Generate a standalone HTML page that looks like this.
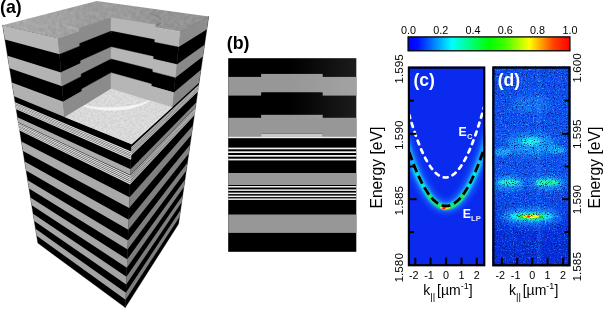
<!DOCTYPE html>
<html><head><meta charset="utf-8"><title>Figure</title>
<style>html,body{margin:0;padding:0;background:#fff}svg{display:block}text{font-family:"Liberation Sans",Arial,sans-serif}</style>
</head><body>
<svg width="604" height="309" viewBox="0 0 604 309">
<defs>
<linearGradient id="jet" x1="0" x2="1" y1="0" y2="0">
<stop offset="0" stop-color="#0000ff"/><stop offset="0.06" stop-color="#0010ff"/><stop offset="0.27" stop-color="#00ffff"/><stop offset="0.5" stop-color="#00ff00"/><stop offset="0.60" stop-color="#40ff00"/><stop offset="0.75" stop-color="#ffff00"/><stop offset="0.9" stop-color="#ff4000"/><stop offset="1" stop-color="#ff0000"/>
</linearGradient>
<linearGradient id="gl" gradientUnits="userSpaceOnUse" x1="0" y1="25" x2="0" y2="305"><stop offset="0" stop-color="#b8b8b8"/><stop offset="0.35" stop-color="#aeaeae"/><stop offset="1" stop-color="#a2a2a2"/></linearGradient>
<linearGradient id="gr" gradientUnits="userSpaceOnUse" x1="0" y1="17" x2="0" y2="305"><stop offset="0" stop-color="#8e8e8e"/><stop offset="0.4" stop-color="#818181"/><stop offset="1" stop-color="#7c7c7c"/></linearGradient>
<linearGradient id="bsh" x1="0" x2="1" y1="0" y2="0"><stop offset="0" stop-color="#fff" stop-opacity="0"/><stop offset="1" stop-color="#fff" stop-opacity="0.11"/></linearGradient>
<linearGradient id="tsh" gradientUnits="userSpaceOnUse" x1="20" y1="35" x2="150" y2="0"><stop offset="0" stop-color="#fff" stop-opacity="0.13"/><stop offset="0.6" stop-color="#fff" stop-opacity="0"/><stop offset="1" stop-color="#000" stop-opacity="0.05"/></linearGradient>
<linearGradient id="dbg" x1="0" x2="0" y1="0" y2="1">
<stop offset="0" stop-color="#1248ee"/><stop offset="0.45" stop-color="#1450f0"/><stop offset="0.7" stop-color="#1040e8"/><stop offset="0.85" stop-color="#0a2cdc"/><stop offset="1" stop-color="#0828d8"/>
</linearGradient>
<filter id="b05" x="-50%" y="-50%" width="200%" height="200%"><feGaussianBlur stdDeviation="0.5"/></filter>
<filter id="b1" x="-50%" y="-100%" width="200%" height="300%"><feGaussianBlur stdDeviation="1"/></filter>
<filter id="b2" x="-50%" y="-100%" width="200%" height="300%"><feGaussianBlur stdDeviation="1.8"/></filter>
<filter id="b3" x="-50%" y="-100%" width="200%" height="300%"><feGaussianBlur stdDeviation="3"/></filter>
<filter id="noise" color-interpolation-filters="sRGB" x="0" y="0" width="100%" height="100%"><feTurbulence type="fractalNoise" baseFrequency="0.9" numOctaves="2" seed="3" result="n"/><feColorMatrix in="n" type="matrix" values="0 0 0 0 0  0 0 0 0 0.08  0 0 0 0 0.4  -3.4 -3.4 0 0 3.15"/></filter>
<filter id="tex" color-interpolation-filters="sRGB" x="0" y="0" width="100%" height="100%"><feTurbulence type="fractalNoise" baseFrequency="0.25" numOctaves="3" seed="5" result="n"/><feColorMatrix in="n" type="matrix" values="0.11 0 0 0 0.555  0.11 0 0 0 0.555  0.11 0 0 0 0.555  0 0 0 0 1" result="g"/><feComposite in="g" in2="SourceGraphic" operator="in"/></filter>
<filter id="tex2" color-interpolation-filters="sRGB" x="0" y="0" width="100%" height="100%"><feTurbulence type="fractalNoise" baseFrequency="0.45" numOctaves="3" seed="8" result="n"/><feColorMatrix in="n" type="matrix" values="0.14 0 0 0 0.78  0.14 0 0 0 0.78  0.14 0 0 0 0.78  0 0 0 0 1" result="g"/><feComposite in="g" in2="SourceGraphic" operator="in"/></filter>
<filter id="dn" x="0" y="0" width="100%" height="100%" color-interpolation-filters="sRGB"><feTurbulence type="fractalNoise" baseFrequency="0.75" numOctaves="2" seed="11" result="n"/><feColorMatrix in="n" type="matrix" values="0.15 0 0 0 -0.09  1.3 0 0 0 -0.7  0.6 0 0 0 -0.31  0 0 0 0 1" result="m"/><feComposite in="SourceGraphic" in2="m" operator="arithmetic" k1="0" k2="1" k3="1" k4="0"/></filter>
<clipPath id="clipc"><rect x="408" y="66.5" width="77.3" height="199.8"/></clipPath>
<clipPath id="clipd"><rect x="492.3" y="66.5" width="78.2" height="199.8"/></clipPath>
</defs>
<rect width="604" height="309" fill="#fff"/>
<g id="block">
<polygon points="2.60,25.20 58.26,38.33 64.54,116.93 131.59,144.37 125.31,307.58 37.82,243.10" fill="#000" stroke="#000" stroke-width="0.35" stroke-linejoin="round" />
<polygon points="208.69,16.38 180.22,31.84 172.26,107.24 131.59,144.37 125.31,307.58 178.55,223.93" fill="#000" stroke="#000" stroke-width="0.35" stroke-linejoin="round" />
<polygon points="2.60,25.20 58.26,38.33 59.53,54.22 4.90,39.40" fill="url(#gl)" />
<polygon points="208.69,16.38 180.22,31.84 178.62,47.01 206.77,29.55" fill="url(#gr)" />
<polygon points="7.54,55.76 60.98,72.41 62.09,86.23 9.56,68.27" fill="url(#gl)" />
<polygon points="204.56,44.78 176.78,64.41 175.38,77.67 202.86,56.47" fill="url(#gr)" />
<polygon points="11.85,82.39 63.33,101.75 64.54,116.93 14.09,96.29" fill="url(#gl)" />
<polygon points="200.94,69.71 173.81,92.60 172.26,107.24 199.04,82.79" fill="url(#gr)" />
<polygon points="15.11,102.58 131.31,151.85 131.27,152.77 15.24,103.36" fill="#f2f2f2" stroke="#f2f2f2" stroke-width="0.35" stroke-linejoin="round" />
<polygon points="15.34,103.99 131.24,153.52 131.21,154.44 15.46,104.77" fill="#f2f2f2" stroke="#f2f2f2" stroke-width="0.35" stroke-linejoin="round" />
<polygon points="15.57,105.40 131.18,155.19 131.14,156.10 15.69,106.17" fill="#f2f2f2" stroke="#f2f2f2" stroke-width="0.35" stroke-linejoin="round" />
<polygon points="15.79,106.80 131.11,156.85 131.08,157.75 15.92,107.57" fill="#f2f2f2" stroke="#f2f2f2" stroke-width="0.35" stroke-linejoin="round" />
<polygon points="16.02,108.20 131.05,158.49 131.02,159.40 16.14,108.96" fill="#f2f2f2" stroke="#f2f2f2" stroke-width="0.35" stroke-linejoin="round" />
<polygon points="198.70,85.13 131.48,147.32 131.44,148.29 198.59,85.90" fill="#d8d8d8" stroke="#d8d8d8" stroke-width="0.35" stroke-linejoin="round" />
<polygon points="198.50,86.52 131.41,149.08 131.38,150.04 198.39,87.28" fill="#d8d8d8" stroke="#d8d8d8" stroke-width="0.35" stroke-linejoin="round" />
<polygon points="198.30,87.91 131.35,150.82 131.31,151.77 198.19,88.66" fill="#d8d8d8" stroke="#d8d8d8" stroke-width="0.35" stroke-linejoin="round" />
<polygon points="198.10,89.28 131.28,152.55 131.24,153.49 197.99,90.04" fill="#d8d8d8" stroke="#d8d8d8" stroke-width="0.35" stroke-linejoin="round" />
<polygon points="197.90,90.65 131.21,154.27 131.18,155.21 197.79,91.41" fill="#d8d8d8" stroke="#d8d8d8" stroke-width="0.35" stroke-linejoin="round" />
<polygon points="17.48,117.27 130.64,169.14 130.42,174.89 18.28,122.20" fill="url(#gl)" />
<polygon points="196.16,102.62 130.64,169.14 130.42,174.89 195.48,107.30" fill="url(#gr)" />
<polygon points="18.40,122.94 130.39,175.75 130.35,176.79 18.55,123.84" fill="#f2f2f2" stroke="#f2f2f2" stroke-width="0.35" stroke-linejoin="round" />
<polygon points="18.67,124.58 130.31,177.65 130.27,178.69 18.81,125.47" fill="#f2f2f2" stroke="#f2f2f2" stroke-width="0.35" stroke-linejoin="round" />
<polygon points="18.93,126.20 130.24,179.53 130.20,180.56 19.07,127.09" fill="#f2f2f2" stroke="#f2f2f2" stroke-width="0.35" stroke-linejoin="round" />
<polygon points="19.19,127.82 130.17,181.41 130.13,182.43 19.33,128.70" fill="#f2f2f2" stroke="#f2f2f2" stroke-width="0.35" stroke-linejoin="round" />
<polygon points="19.45,129.43 130.10,183.26 130.06,184.28 19.59,130.31" fill="#f2f2f2" stroke="#f2f2f2" stroke-width="0.35" stroke-linejoin="round" />
<polygon points="195.38,108.01 130.39,175.75 130.35,176.79 195.26,108.86" fill="#d8d8d8" stroke="#d8d8d8" stroke-width="0.35" stroke-linejoin="round" />
<polygon points="195.16,109.56 130.31,177.65 130.27,178.69 195.03,110.41" fill="#d8d8d8" stroke="#d8d8d8" stroke-width="0.35" stroke-linejoin="round" />
<polygon points="194.93,111.11 130.24,179.53 130.20,180.56 194.81,111.95" fill="#d8d8d8" stroke="#d8d8d8" stroke-width="0.35" stroke-linejoin="round" />
<polygon points="194.71,112.64 130.17,181.41 130.13,182.43 194.59,113.49" fill="#d8d8d8" stroke="#d8d8d8" stroke-width="0.35" stroke-linejoin="round" />
<polygon points="194.49,114.17 130.10,183.26 130.06,184.28 194.36,115.01" fill="#d8d8d8" stroke="#d8d8d8" stroke-width="0.35" stroke-linejoin="round" />
<polygon points="21.41,141.53 129.56,197.16 129.14,208.04 22.96,151.12" fill="url(#gl)" />
<polygon points="192.81,125.71 129.56,197.16 129.14,208.04 191.48,134.86" fill="url(#gr)" />
<polygon points="24.64,161.53 128.69,219.76 128.31,229.68 26.08,170.44" fill="url(#gl)" />
<polygon points="190.03,144.84 128.69,219.76 128.31,229.68 188.79,153.39" fill="url(#gr)" />
<polygon points="27.65,180.13 127.90,240.39 127.55,249.47 28.99,188.43" fill="url(#gl)" />
<polygon points="187.44,162.72 127.90,240.39 127.55,249.47 186.27,170.73" fill="url(#gr)" />
<polygon points="30.45,197.47 127.17,259.29 126.85,267.64 31.70,205.22" fill="url(#gl)" />
<polygon points="185.00,179.48 127.17,259.29 126.85,267.64 183.91,186.99" fill="url(#gr)" />
<polygon points="33.07,213.68 126.50,276.68 126.21,284.38 34.24,220.93" fill="url(#gl)" />
<polygon points="182.72,195.20 126.50,276.68 126.21,284.38 181.70,202.26" fill="url(#gr)" />
<polygon points="35.52,228.86 125.88,292.73 125.61,299.84 36.62,235.66" fill="url(#gl)" />
<polygon points="180.57,209.99 125.88,292.73 125.61,299.84 179.61,216.64" fill="url(#gr)" />
<polygon points="2.60,25.20 96.73,0.89 208.69,16.38 180.22,31.84 111.19,19.90 58.26,38.33" fill="#959595" filter="url(#tex)"/>
<polygon points="111.20,17.43 78.93,28.35 76.46,27.81 74.16,27.24 72.03,26.63 70.09,26.00 68.33,25.34 66.76,24.67 65.38,23.97 64.20,23.26 63.22,22.55 62.43,21.82 61.83,21.09 61.42,20.35 61.21,19.62 61.17,18.90 61.32,18.18 61.64,17.47 62.13,16.77 62.78,16.08 63.59,15.41 64.55,14.76 65.66,14.13 66.90,13.52 68.28,12.93 69.77,12.36 71.39,11.82 73.11,11.30 74.94,10.81 76.86,10.35 78.87,9.91 80.97,9.51 83.14,9.13 85.38,8.79 87.68,8.47 90.04,8.19 92.45,7.93 94.91,7.71 97.40,7.52 99.93,7.36 102.48,7.23 105.05,7.14 107.64,7.08 110.23,7.05 112.83,7.05 115.43,7.08 118.01,7.15 120.59,7.25 123.14,7.38 125.66,7.55 128.15,7.74 130.60,7.97 133.01,8.23 135.37,8.52 137.67,8.84 139.90,9.19 142.07,9.58 144.15,9.99 146.15,10.43 148.07,10.90 149.88,11.39 151.59,11.92 153.18,12.47 154.66,13.04 156.01,13.64 157.23,14.26 158.31,14.90 159.24,15.56 160.02,16.23 160.63,16.93 161.09,17.63 161.36,18.35 161.46,19.07 161.38,19.80 161.11,20.54 160.65,21.28 160.00,22.01 159.15,22.74 158.11,23.46 156.87,24.17 155.43,24.86" fill="#959595" filter="url(#tex)"/>
<polygon points="155.25,27.52 156.08,27.13 156.85,26.72 157.56,26.32 158.20,25.90 158.78,25.49 159.31,25.07 159.76,24.65 160.16,24.23 160.50,23.80 160.77,23.38 160.99,22.95 161.14,22.53 161.24,22.11 161.27,21.68 161.25,21.26 161.17,20.85 161.04,20.43 160.85,20.02 160.61,19.61 160.31,19.21 159.96,18.81 159.56,18.42 159.11,18.03 158.62,17.64 158.07,17.27 157.48,16.90 156.84,16.53 156.16,16.17 155.44,15.82 154.68,15.48 153.87,15.14 153.03,14.81 152.15,14.49 151.23,14.18 150.28,13.88 149.29,13.58 148.27,13.30 147.22,13.02 146.14,12.75 146.14,12.75 147.23,12.93 148.28,13.12 149.31,13.32 150.30,13.53 151.26,13.75 152.18,13.98 153.07,14.21 153.92,14.46 154.73,14.71 155.50,14.97 156.23,15.24 156.91,15.52 157.56,15.80 158.15,16.09 158.71,16.39 159.21,16.70 159.67,17.01 160.07,17.33 160.43,17.65 160.73,17.98 160.98,18.32 161.17,18.66 161.31,19.00 161.40,19.35 161.42,19.71 161.39,20.06 161.30,20.42 161.15,20.78 160.94,21.15 160.67,21.51 160.34,21.88 159.94,22.25 159.48,22.62 158.96,22.99 158.38,23.36 157.74,23.74 157.03,24.11 156.26,24.48 155.43,24.86" fill="#7c7c7c" opacity="0.7"/>
<polygon points="79.06,31.09 77.94,30.84 76.84,30.59 75.78,30.33 74.75,30.07 73.76,29.80 72.80,29.52 71.88,29.23 71.00,28.94 70.16,28.65 69.35,28.35 68.58,28.04 67.84,27.73 67.15,27.42 66.50,27.10 65.88,26.78 65.31,26.46 64.77,26.13 64.27,25.80 63.82,25.47 63.40,25.14 63.02,24.80 62.68,24.47 62.38,24.13 62.12,23.79 61.89,23.46 61.71,23.12 61.56,22.78 61.46,22.44 61.38,22.10 61.35,21.77 61.35,21.43 61.39,21.10 61.47,20.77 61.58,20.44 61.72,20.11 61.90,19.78 62.12,19.46 62.37,19.14 62.65,18.82 62.65,18.82 62.36,19.05 62.11,19.28 61.88,19.51 61.70,19.74 61.55,19.98 61.43,20.22 61.35,20.46 61.30,20.71 61.29,20.95 61.32,21.20 61.38,21.45 61.49,21.71 61.63,21.96 61.80,22.21 62.02,22.47 62.28,22.73 62.57,22.98 62.91,23.24 63.28,23.50 63.70,23.76 64.15,24.01 64.64,24.27 65.17,24.52 65.75,24.78 66.36,25.03 67.01,25.28 67.70,25.53 68.43,25.78 69.20,26.02 70.01,26.27 70.86,26.51 71.74,26.74 72.66,26.98 73.62,27.21 74.61,27.44 75.64,27.67 76.70,27.90 77.80,28.12 78.93,28.35" fill="#b4b4b4" opacity="0.6"/>
<polygon points="2.60,25.20 96.73,0.89 208.69,16.38 180.22,31.84 111.19,19.90 58.26,38.33" fill="url(#tsh)" />
<polygon points="64.54,116.93 111.12,88.17 172.26,107.24 131.59,144.37" fill="#d6d6d6" filter="url(#tex2)"/>
<polygon points="150.34,100.40 149.57,100.99 148.75,101.56 147.88,102.13 146.96,102.68 146.00,103.22 144.99,103.74 143.94,104.26 142.84,104.75 141.70,105.23 140.52,105.69 139.30,106.14 138.04,106.57 136.74,106.97 135.41,107.36 134.05,107.73 132.65,108.07 131.22,108.40 129.77,108.70 128.29,108.98 126.78,109.23 125.25,109.46 123.70,109.67 122.13,109.85 120.55,110.01 118.95,110.14 117.35,110.25 115.73,110.33 114.11,110.38 112.48,110.41 110.85,110.41 109.22,110.39 107.60,110.34 105.98,110.26 104.37,110.16 102.76,110.03 101.17,109.88 99.60,109.70 98.04,109.50 96.50,109.27 94.99,109.02 93.49,108.75 92.02,108.45 90.58,108.13 89.17,107.79 87.79,107.42 86.44,107.04 85.13,106.64 83.85,106.21 82.61,105.77 82.56,104.72 83.80,105.03 85.07,105.33 86.38,105.60 87.73,105.86 89.11,106.10 90.52,106.32 91.96,106.52 93.43,106.70 94.93,106.87 96.45,107.01 97.99,107.13 99.55,107.24 101.13,107.33 102.73,107.39 104.34,107.44 105.96,107.47 107.58,107.49 109.22,107.48 110.85,107.45 112.49,107.41 114.13,107.35 115.76,107.27 117.38,107.18 119.00,107.06 120.60,106.93 122.20,106.79 123.77,106.62 125.33,106.44 126.86,106.25 128.38,106.04 129.86,105.81 131.32,105.57 132.76,105.31 134.16,105.04 135.52,104.75 136.86,104.45 138.15,104.13 139.41,103.80 140.63,103.46 141.81,103.11 142.95,102.74 144.04,102.36 145.09,101.97 146.10,101.56 147.06,101.14 147.97,100.72 148.83,100.28 149.65,99.83 150.41,99.37" fill="#f4f4f4" stroke="#f4f4f4" stroke-width="0.35" stroke-linejoin="round" />
<polygon points="58.26,38.33 111.19,19.90 111.18,33.48 59.53,54.22" fill="#8b8b8b" stroke="#8b8b8b" stroke-width="0.35" stroke-linejoin="round" />
<polygon points="59.53,54.22 111.18,33.48 111.16,49.15 60.98,72.41" fill="#000" stroke="#000" stroke-width="0.35" stroke-linejoin="round" />
<polygon points="60.98,72.41 111.16,49.15 111.15,61.17 62.09,86.23" fill="#8b8b8b" stroke="#8b8b8b" stroke-width="0.35" stroke-linejoin="round" />
<polygon points="62.09,86.23 111.15,61.17 111.14,74.76 63.33,101.75" fill="#000" stroke="#000" stroke-width="0.35" stroke-linejoin="round" />
<polygon points="63.33,101.75 111.14,74.76 111.12,88.17 64.54,116.93" fill="#8b8b8b" stroke="#8b8b8b" stroke-width="0.35" stroke-linejoin="round" />
<polygon points="78.93,28.35 111.20,17.43 111.18,31.11 79.65,43.48" fill="#8b8b8b" stroke="#8b8b8b" stroke-width="0.35" stroke-linejoin="round" />
<polygon points="79.65,43.48 111.18,31.11 111.16,46.89 80.48,60.84" fill="#000" stroke="#000" stroke-width="0.35" stroke-linejoin="round" />
<polygon points="80.48,60.84 111.16,46.89 111.15,58.99 81.11,74.08" fill="#8b8b8b" stroke="#8b8b8b" stroke-width="0.35" stroke-linejoin="round" />
<polygon points="81.11,74.08 111.15,58.99 111.14,72.68 81.81,88.99" fill="#000" stroke="#000" stroke-width="0.35" stroke-linejoin="round" />
<polygon points="81.81,88.99 111.14,72.68 111.12,88.17 82.61,105.77" fill="#8b8b8b" stroke="#8b8b8b" stroke-width="0.35" stroke-linejoin="round" />
<polygon points="180.22,31.84 111.19,19.90 111.18,33.48 178.62,47.01" fill="#b6b6b6" stroke="#b6b6b6" stroke-width="0.35" stroke-linejoin="round" />
<polygon points="178.62,47.01 111.18,33.48 111.16,49.15 176.78,64.41" fill="#000" stroke="#000" stroke-width="0.35" stroke-linejoin="round" />
<polygon points="176.78,64.41 111.16,49.15 111.15,61.17 175.38,77.67" fill="#b6b6b6" stroke="#b6b6b6" stroke-width="0.35" stroke-linejoin="round" />
<polygon points="175.38,77.67 111.15,61.17 111.14,74.76 173.81,92.60" fill="#000" stroke="#000" stroke-width="0.35" stroke-linejoin="round" />
<polygon points="173.81,92.60 111.14,74.76 111.12,88.17 172.26,107.24" fill="#b6b6b6" stroke="#b6b6b6" stroke-width="0.35" stroke-linejoin="round" />
<polygon points="155.43,24.86 111.20,17.43 111.18,31.11 154.44,39.58" fill="#b6b6b6" stroke="#b6b6b6" stroke-width="0.35" stroke-linejoin="round" />
<polygon points="154.44,39.58 111.18,31.11 111.16,46.89 153.30,56.49" fill="#000" stroke="#000" stroke-width="0.35" stroke-linejoin="round" />
<polygon points="153.30,56.49 111.16,46.89 111.15,58.99 152.43,69.41" fill="#b6b6b6" stroke="#b6b6b6" stroke-width="0.35" stroke-linejoin="round" />
<polygon points="152.43,69.41 111.15,58.99 111.14,72.68 151.45,83.98" fill="#000" stroke="#000" stroke-width="0.35" stroke-linejoin="round" />
<polygon points="151.45,83.98 111.14,72.68 111.12,88.17 150.34,100.40" fill="#b6b6b6" stroke="#b6b6b6" stroke-width="0.35" stroke-linejoin="round" />
</g>
<g id="panelb">
<rect x="228.2" y="58.2" width="128.1" height="193.6" fill="#000"/>
<rect x="228.20" y="76.90" width="33.90" height="18.70" fill="#979797"/>
<rect x="321.70" y="76.90" width="34.60" height="18.70" fill="#979797"/>
<rect x="261.10" y="73.90" width="61.60" height="18.60" fill="#979797"/>
<rect x="261.10" y="92.50" width="61.60" height="3.40" fill="#000"/>
<rect x="228.20" y="117.80" width="33.90" height="19.10" fill="#979797"/>
<rect x="321.70" y="117.80" width="34.60" height="19.10" fill="#979797"/>
<rect x="261.10" y="114.80" width="61.60" height="19.00" fill="#979797"/>
<rect x="261.10" y="133.80" width="61.60" height="3.40" fill="#000"/>
<rect x="261.10" y="133.70" width="61.60" height="3.20" fill="#c9c9c9"/>
<rect x="228.20" y="136.70" width="128.10" height="1.50" fill="#f0f0f0"/>
<rect x="228.20" y="147.60" width="128.10" height="1.70" fill="#f0f0f0"/>
<rect x="228.20" y="151.30" width="128.10" height="1.70" fill="#f0f0f0"/>
<rect x="228.20" y="155.00" width="128.10" height="1.70" fill="#f0f0f0"/>
<rect x="228.20" y="158.70" width="128.10" height="1.70" fill="#f0f0f0"/>
<rect x="228.20" y="173.00" width="128.10" height="12.00" fill="#979797"/>
<rect x="228.20" y="186.00" width="128.10" height="1.50" fill="#f0f0f0"/>
<rect x="228.20" y="189.40" width="128.10" height="1.50" fill="#f0f0f0"/>
<rect x="228.20" y="192.60" width="128.10" height="1.50" fill="#f0f0f0"/>
<rect x="228.20" y="195.60" width="128.10" height="1.50" fill="#f0f0f0"/>
<rect x="228.20" y="198.40" width="128.10" height="1.50" fill="#f0f0f0"/>
<rect x="228.20" y="214.50" width="128.10" height="18.40" fill="#979797"/>
<rect x="290" y="58.2" width="66.3" height="60" fill="url(#bsh)"/>
</g>
<rect x="408.1" y="36.9" width="161.8" height="13.9" fill="url(#jet)" stroke="#000" stroke-width="1.3"/>
<g clip-path="url(#clipc)">
<rect x="408" y="66.5" width="77.3" height="199.8" fill="#0a2aee"/>
<path d="M404.00,136.59 L405.46,141.38 L406.92,146.00 L408.37,150.45 L409.83,154.73 L411.29,158.84 L412.75,162.79 L414.20,166.56 L415.66,170.17 L417.12,173.60 L418.58,176.87 L420.03,179.97 L421.49,182.89 L422.95,185.65 L424.41,188.24 L425.86,190.66 L427.32,192.92 L428.78,195.00 L430.24,196.91 L431.69,198.66 L433.15,200.23 L434.61,201.64 L436.07,202.87 L437.53,203.94 L438.98,204.84 L440.44,205.57 L441.90,206.13 L443.36,206.52 L444.81,206.74 L446.27,206.80 L447.73,206.68 L449.19,206.40 L450.64,205.94 L452.10,205.32 L453.56,204.53 L455.02,203.56 L456.47,202.43 L457.93,201.13 L459.39,199.66 L460.85,198.03 L462.31,196.22 L463.76,194.24 L465.22,192.10 L466.68,189.78 L468.14,187.30 L469.59,184.65 L471.05,181.82 L472.51,178.83 L473.97,175.67 L475.42,172.34 L476.88,168.84 L478.34,165.18 L479.80,161.34 L481.25,157.33 L482.71,153.16 L484.17,148.81 L485.63,144.30 L487.08,139.62 L488.54,134.77 L490.00,129.75" fill="none" stroke="#1a78ff" stroke-width="11" filter="url(#b3)" opacity="0.9"/>
<path d="M404.00,136.59 L405.46,141.38 L406.92,146.00 L408.37,150.45 L409.83,154.73 L411.29,158.84 L412.75,162.79 L414.20,166.56 L415.66,170.17 L417.12,173.60 L418.58,176.87 L420.03,179.97 L421.49,182.89 L422.95,185.65 L424.41,188.24 L425.86,190.66 L427.32,192.92 L428.78,195.00 L430.24,196.91 L431.69,198.66 L433.15,200.23 L434.61,201.64 L436.07,202.87 L437.53,203.94 L438.98,204.84 L440.44,205.57 L441.90,206.13 L443.36,206.52 L444.81,206.74 L446.27,206.80 L447.73,206.68 L449.19,206.40 L450.64,205.94 L452.10,205.32 L453.56,204.53 L455.02,203.56 L456.47,202.43 L457.93,201.13 L459.39,199.66 L460.85,198.03 L462.31,196.22 L463.76,194.24 L465.22,192.10 L466.68,189.78 L468.14,187.30 L469.59,184.65 L471.05,181.82 L472.51,178.83 L473.97,175.67 L475.42,172.34 L476.88,168.84 L478.34,165.18 L479.80,161.34 L481.25,157.33 L482.71,153.16 L484.17,148.81 L485.63,144.30 L487.08,139.62 L488.54,134.77 L490.00,129.75" fill="none" stroke="#19b4ff" stroke-width="6" filter="url(#b2)"/>
<path d="M414.00,166.04 L415.10,168.80 L416.20,171.46 L417.31,174.03 L418.41,176.50 L419.51,178.87 L420.61,181.14 L421.71,183.32 L422.81,185.40 L423.92,187.39 L425.02,189.28 L426.12,191.07 L427.22,192.76 L428.32,194.36 L429.42,195.86 L430.53,197.27 L431.63,198.58 L432.73,199.79 L433.83,200.91 L434.93,201.92 L436.03,202.85 L437.14,203.67 L438.24,204.40 L439.34,205.03 L440.44,205.57 L441.54,206.01 L442.64,206.35 L443.75,206.60 L444.85,206.75 L445.95,206.80 L447.05,206.76 L448.15,206.62 L449.25,206.38 L450.36,206.04 L451.46,205.61 L452.56,205.09 L453.66,204.46 L454.76,203.74 L455.86,202.93 L456.97,202.01 L458.07,201.00 L459.17,199.90 L460.27,198.69 L461.37,197.39 L462.47,196.00 L463.58,194.50 L464.68,192.92 L465.78,191.23 L466.88,189.45 L467.98,187.57 L469.08,185.59 L470.19,183.52 L471.29,181.35 L472.39,179.08 L473.49,176.72 L474.59,174.26 L475.69,171.70 L476.80,169.05 L477.90,166.30 L479.00,163.46" fill="none" stroke="#00f0e0" stroke-width="3.6" filter="url(#b1)"/>
<path d="M427.00,192.93 L427.66,193.91 L428.32,194.86 L428.98,195.77 L429.64,196.65 L430.31,197.50 L430.97,198.30 L431.63,199.08 L432.29,199.82 L432.95,200.52 L433.61,201.19 L434.27,201.82 L434.93,202.42 L435.59,202.99 L436.25,203.52 L436.92,204.02 L437.58,204.48 L438.24,204.90 L438.90,205.29 L439.56,205.65 L440.22,205.97 L440.88,206.26 L441.54,206.51 L442.20,206.73 L442.86,206.91 L443.53,207.06 L444.19,207.17 L444.85,207.25 L445.51,207.29 L446.17,207.30 L446.83,207.27 L447.49,207.21 L448.15,207.12 L448.81,206.98 L449.47,206.82 L450.14,206.62 L450.80,206.38 L451.46,206.11 L452.12,205.81 L452.78,205.47 L453.44,205.10 L454.10,204.69 L454.76,204.24 L455.42,203.77 L456.08,203.25 L456.75,202.70 L457.41,202.12 L458.07,201.50 L458.73,200.85 L459.39,200.16 L460.05,199.44 L460.71,198.69 L461.37,197.89 L462.03,197.07 L462.69,196.21 L463.36,195.31 L464.02,194.38 L464.68,193.42 L465.34,192.41 L466.00,191.38" fill="none" stroke="#20f040" stroke-width="3.4" filter="url(#b1)"/>
<ellipse cx="445" cy="207.6" rx="5" ry="1.8" fill="#ffe000" filter="url(#b05)"/>
<ellipse cx="443.8" cy="208.2" rx="1.8" ry="1.1" fill="#ff2000"/>
<path d="M409.00,151.51 L410.27,155.19 L411.54,158.74 L412.81,162.17 L414.08,165.46 L415.36,168.63 L416.63,171.66 L417.90,174.57 L419.17,177.35 L420.44,180.00 L421.71,182.52 L422.98,184.91 L424.25,187.18 L425.53,189.32 L426.80,191.32 L428.07,193.20 L429.34,194.95 L430.61,196.57 L431.88,198.07 L433.15,199.43 L434.42,200.67 L435.69,201.77 L436.97,202.75 L438.24,203.60 L439.51,204.32 L440.78,204.92 L442.05,205.38 L443.32,205.71 L444.59,205.92 L445.86,206.00 L447.14,205.95 L448.41,205.77 L449.68,205.46 L450.95,205.03 L452.22,204.46 L453.49,203.77 L454.76,202.94 L456.03,201.99 L457.31,200.91 L458.58,199.71 L459.85,198.37 L461.12,196.90 L462.39,195.31 L463.66,193.59 L464.93,191.73 L466.20,189.75 L467.47,187.65 L468.75,185.41 L470.02,183.04 L471.29,180.55 L472.56,177.93 L473.83,175.17 L475.10,172.29 L476.37,169.28 L477.64,166.15 L478.92,162.88 L480.19,159.49 L481.46,155.96 L482.73,152.31 L484.00,148.53" fill="none" stroke="#000" stroke-width="2.8" stroke-dasharray="8.8 4" stroke-dashoffset="12.33" stroke-linecap="butt"/>
<path d="M409.00,114.22 L410.27,118.55 L411.54,122.73 L412.81,126.75 L414.08,130.62 L415.36,134.34 L416.63,137.90 L417.90,141.31 L419.17,144.57 L420.44,147.67 L421.71,150.62 L422.98,153.42 L424.25,156.06 L425.53,158.55 L426.80,160.88 L428.07,163.07 L429.34,165.09 L430.61,166.97 L431.88,168.69 L433.15,170.26 L434.42,171.67 L435.69,172.93 L436.97,174.04 L438.24,174.99 L439.51,175.79 L440.78,176.44 L442.05,176.93 L443.32,177.27 L444.59,177.46 L445.86,177.49 L447.14,177.37 L448.41,177.10 L449.68,176.67 L450.95,176.09 L452.22,175.35 L453.49,174.47 L454.76,173.42 L456.03,172.23 L457.31,170.88 L458.58,169.38 L459.85,167.72 L461.12,165.91 L462.39,163.95 L463.66,161.83 L464.93,159.56 L466.20,157.14 L467.47,154.56 L468.75,151.83 L470.02,148.95 L471.29,145.91 L472.56,142.72 L473.83,139.38 L475.10,135.88 L476.37,132.23 L477.64,128.42 L478.92,124.46 L480.19,120.35 L481.46,116.08 L482.73,111.67 L484.00,107.09" fill="none" stroke="#fff" stroke-width="2.7" stroke-dasharray="3.9 5.4" stroke-linecap="round"/>
</g>
<rect x="408.90" y="67.60" width="75.30" height="197.60" fill="none" stroke="#000" stroke-width="2.2"/>
<line x1="409.5" y1="133.8" x2="416.5" y2="133.8" stroke="#000" stroke-width="2"/>
<line x1="409.5" y1="199.2" x2="416.5" y2="199.2" stroke="#000" stroke-width="2"/>
<line x1="409.5" y1="100.7" x2="414.0" y2="100.7" stroke="#000" stroke-width="2"/>
<line x1="409.5" y1="166.5" x2="414.0" y2="166.5" stroke="#000" stroke-width="2"/>
<line x1="409.5" y1="232.1" x2="414.0" y2="232.1" stroke="#000" stroke-width="2"/>
<line x1="415.3" y1="264.8" x2="415.3" y2="257.8" stroke="#000" stroke-width="2"/>
<line x1="430.6" y1="264.8" x2="430.6" y2="257.8" stroke="#000" stroke-width="2"/>
<line x1="446.1" y1="264.8" x2="446.1" y2="257.8" stroke="#000" stroke-width="2"/>
<line x1="461.5" y1="264.8" x2="461.5" y2="257.8" stroke="#000" stroke-width="2"/>
<line x1="476.8" y1="264.8" x2="476.8" y2="257.8" stroke="#000" stroke-width="2"/>
<g clip-path="url(#clipd)"><g filter="url(#dn)">
<rect x="492" y="66.5" width="78.5" height="199.8" fill="url(#dbg)"/>
<rect x="537.5" y="66" width="2.4" height="200" fill="#2a8cff" opacity="0.35" filter="url(#b1)"/>
<ellipse cx="531.0" cy="144.0" rx="24.0" ry="11.0" fill="#1e98ff" filter="url(#b3)" opacity="0.90"/>
<ellipse cx="530.7" cy="141.7" rx="10.0" ry="4.0" fill="#20e8e8" filter="url(#b2)" opacity="1.00"/>
<ellipse cx="503.0" cy="152.0" rx="9.0" ry="4.0" fill="#22b0ff" filter="url(#b2)" opacity="0.80"/>
<ellipse cx="557.0" cy="150.0" rx="9.0" ry="4.0" fill="#22b0ff" filter="url(#b2)" opacity="0.80"/>
<ellipse cx="531.0" cy="104.0" rx="20.0" ry="9.0" fill="#1e90ff" filter="url(#b3)" opacity="0.50"/>
<ellipse cx="509.0" cy="183.0" rx="17.0" ry="7.0" fill="#1e98ff" filter="url(#b3)" opacity="0.95"/>
<ellipse cx="548.0" cy="183.0" rx="19.0" ry="7.0" fill="#1e98ff" filter="url(#b3)" opacity="0.95"/>
<ellipse cx="508.9" cy="182.4" rx="10.0" ry="3.0" fill="#20f0c0" filter="url(#b1)" opacity="1.00"/>
<ellipse cx="547.6" cy="182.4" rx="12.0" ry="3.2" fill="#20f0a0" filter="url(#b1)" opacity="1.00"/>
<ellipse cx="531.0" cy="216.4" rx="30.0" ry="9.0" fill="#1e90ff" filter="url(#b3)" opacity="0.90"/>
<ellipse cx="531.0" cy="216.4" rx="22.0" ry="4.0" fill="#10e8ff" filter="url(#b2)" opacity="1.00"/>
<ellipse cx="531.0" cy="216.4" rx="15.0" ry="2.8" fill="#30f030" filter="url(#b1)" opacity="1.00"/>
<ellipse cx="531.0" cy="216.4" rx="8.0" ry="1.8" fill="#fff000" filter="url(#b05)" opacity="1.00"/>
<ellipse cx="528.5" cy="216.4" rx="1.6" ry="1.2" fill="#ff2000" filter="url(#b05)" opacity="1.00"/>
</g><rect x="492" y="66.5" width="78.5" height="199.8" filter="url(#noise)" opacity="0.8"/>
</g>
<rect x="493.40" y="67.60" width="76.00" height="197.60" fill="none" stroke="#000" stroke-width="2.2"/>
<line x1="569.0" y1="133.8" x2="562.0" y2="133.8" stroke="#000" stroke-width="2"/>
<line x1="569.0" y1="199.2" x2="562.0" y2="199.2" stroke="#000" stroke-width="2"/>
<line x1="569.0" y1="100.7" x2="564.5" y2="100.7" stroke="#000" stroke-width="2"/>
<line x1="569.0" y1="166.5" x2="564.5" y2="166.5" stroke="#000" stroke-width="2"/>
<line x1="569.0" y1="232.1" x2="564.5" y2="232.1" stroke="#000" stroke-width="2"/>
<line x1="501.9" y1="264.8" x2="501.9" y2="257.8" stroke="#000" stroke-width="2"/>
<line x1="517.2" y1="264.8" x2="517.2" y2="257.8" stroke="#000" stroke-width="2"/>
<line x1="532.3" y1="264.8" x2="532.3" y2="257.8" stroke="#000" stroke-width="2"/>
<line x1="547.6" y1="264.8" x2="547.6" y2="257.8" stroke="#000" stroke-width="2"/>
<line x1="563.1" y1="264.8" x2="563.1" y2="257.8" stroke="#000" stroke-width="2"/>
<text x="0.0" y="13.2" font-size="17.8" font-weight="bold" fill="#000" text-anchor="start" >(a)</text>
<text x="226.8" y="49.0" font-size="17.8" font-weight="bold" fill="#000" text-anchor="start" >(b)</text>
<text x="413.4" y="86.0" font-size="17.5" font-weight="bold" fill="#fff" text-anchor="start" >(c)</text>
<text x="497.8" y="86.0" font-size="17.5" font-weight="bold" fill="#fff" text-anchor="start" >(d)</text>
<text x="408.4" y="34.0" font-size="10.8" font-weight="normal" fill="#000" text-anchor="middle" >0.0</text>
<text x="440.7" y="34.0" font-size="10.8" font-weight="normal" fill="#000" text-anchor="middle" >0.2</text>
<text x="473.0" y="34.0" font-size="10.8" font-weight="normal" fill="#000" text-anchor="middle" >0.4</text>
<text x="505.3" y="34.0" font-size="10.8" font-weight="normal" fill="#000" text-anchor="middle" >0.6</text>
<text x="537.6" y="34.0" font-size="10.8" font-weight="normal" fill="#000" text-anchor="middle" >0.8</text>
<text x="569.9" y="34.0" font-size="10.8" font-weight="normal" fill="#000" text-anchor="middle" >1.0</text>
<text x="403.2" y="68.9" font-size="11.8" font-weight="normal" fill="#000" text-anchor="middle" transform="rotate(-90 403.2 68.9)" >1.595</text>
<text x="403.2" y="135.2" font-size="11.8" font-weight="normal" fill="#000" text-anchor="middle" transform="rotate(-90 403.2 135.2)" >1.590</text>
<text x="403.2" y="200.6" font-size="11.8" font-weight="normal" fill="#000" text-anchor="middle" transform="rotate(-90 403.2 200.6)" >1.585</text>
<text x="403.2" y="267.8" font-size="11.8" font-weight="normal" fill="#000" text-anchor="middle" transform="rotate(-90 403.2 267.8)" >1.580</text>
<text x="581.5" y="67.9" font-size="11.8" font-weight="normal" fill="#000" text-anchor="middle" transform="rotate(-90 581.5 67.9)" >1.600</text>
<text x="581.5" y="134.2" font-size="11.8" font-weight="normal" fill="#000" text-anchor="middle" transform="rotate(-90 581.5 134.2)" >1.595</text>
<text x="581.5" y="199.6" font-size="11.8" font-weight="normal" fill="#000" text-anchor="middle" transform="rotate(-90 581.5 199.6)" >1.590</text>
<text x="581.5" y="266.8" font-size="11.8" font-weight="normal" fill="#000" text-anchor="middle" transform="rotate(-90 581.5 266.8)" >1.585</text>
<text x="382.3" y="167.6" font-size="15.7" font-weight="normal" fill="#000" text-anchor="middle" transform="rotate(-90 382.3 167.6)" >Energy [eV]</text>
<text x="600.3" y="167.6" font-size="15.7" font-weight="normal" fill="#000" text-anchor="middle" transform="rotate(-90 600.3 167.6)" >Energy [eV]</text>
<text x="413.7" y="278.8" font-size="10.8" font-weight="normal" fill="#000" text-anchor="middle" >-2</text>
<text x="429.0" y="278.8" font-size="10.8" font-weight="normal" fill="#000" text-anchor="middle" >-1</text>
<text x="446.1" y="278.8" font-size="10.8" font-weight="normal" fill="#000" text-anchor="middle" >0</text>
<text x="461.5" y="278.8" font-size="10.8" font-weight="normal" fill="#000" text-anchor="middle" >1</text>
<text x="476.8" y="278.8" font-size="10.8" font-weight="normal" fill="#000" text-anchor="middle" >2</text>
<text x="500.3" y="278.8" font-size="10.8" font-weight="normal" fill="#000" text-anchor="middle" >-2</text>
<text x="515.6" y="278.8" font-size="10.8" font-weight="normal" fill="#000" text-anchor="middle" >-1</text>
<text x="532.3" y="278.8" font-size="10.8" font-weight="normal" fill="#000" text-anchor="middle" >0</text>
<text x="547.6" y="278.8" font-size="10.8" font-weight="normal" fill="#000" text-anchor="middle" >1</text>
<text x="563.1" y="278.8" font-size="10.8" font-weight="normal" fill="#000" text-anchor="middle" >2</text>
<text x="423.3" y="294.6" font-size="14">k<tspan font-size="9.5" dy="5.5">||</tspan><tspan dy="-5.5" dx="1.8">[µm</tspan><tspan font-size="9" dy="-5.5">-1</tspan><tspan dy="5.5">]</tspan></text>
<text x="509.0" y="294.6" font-size="14">k<tspan font-size="9.5" dy="5.5">||</tspan><tspan dy="-5.5" dx="1.8">[µm</tspan><tspan font-size="9" dy="-5.5">-1</tspan><tspan dy="5.5">]</tspan></text>
<text x="458.6" y="136" font-size="12.3" font-weight="bold" fill="#fff">E<tspan font-size="7.6" dy="2.9" dx="0.2" fill="#e8e8ff">C</tspan></text>
<text x="462.7" y="217.7" font-size="12.3" font-weight="bold" fill="#fff">E<tspan font-size="7.6" dy="3.1" dx="0.2" fill="#e8e8ff">LP</tspan></text>
</svg>
</body></html>
